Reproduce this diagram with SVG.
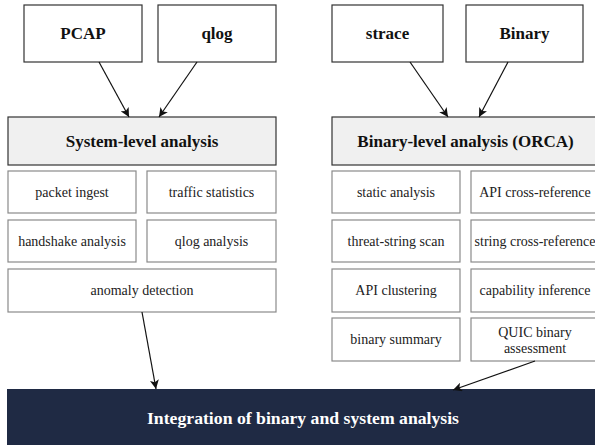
<svg xmlns="http://www.w3.org/2000/svg" width="595" height="445" viewBox="0 0 595 445">
  <defs>
    <marker id="arrow" viewBox="0 0 10 10" refX="10" refY="5" markerWidth="10" markerHeight="9" markerUnits="userSpaceOnUse" orient="auto">
      <path d="M0,0 L10,5 L0,10 L2.5,5 z" fill="#111"/>
    </marker>
    <style>
      .src { fill: #ffffff; stroke: #333333; stroke-width: 1.2; }
      .head { fill: #f0f0f0; stroke: #333333; stroke-width: 1.2; }
      .step { fill: #ffffff; stroke: #8a8a8a; stroke-width: 1.2; }
      .final { fill: #1f2a44; stroke: none; }
      text { font-family: 'Liberation Serif', 'Times New Roman', Times, 'DejaVu Serif', serif; }
      .bold { font-weight: bold; font-size: 17px; fill: #111; text-anchor: middle; }
      .txt { font-size: 14px; fill: #222; text-anchor: middle; }
      .white { fill: #ffffff; font-size: 17.7px; }
      .edge { stroke: #111; stroke-width: 1.2; fill: none; marker-end: url(#arrow); }
    </style>
  </defs>

  <!-- input sources -->
  <g id="pcap"><rect class="src" x="24" y="5" width="118" height="57"/><text class="bold" x="83" y="39">PCAP</text></g>
  <g id="qlog"><rect class="src" x="158" y="5" width="118" height="57"/><text class="bold" x="217" y="39">qlog</text></g>
  <g id="strace"><rect class="src" x="332" y="5" width="111" height="57"/><text class="bold" x="387.5" y="39">strace</text></g>
  <g id="binary"><rect class="src" x="466" y="5" width="117" height="57"/><text class="bold" x="524.5" y="39">Binary</text></g>

  <!-- analysis headers -->
  <g id="system-level"><rect class="head" x="8" y="117" width="268" height="48"/><text class="bold" x="142" y="147">System-level analysis</text></g>
  <g id="binary-level"><rect class="head" x="332" y="117" width="267" height="48"/><text class="bold" x="465.5" y="147">Binary-level analysis (ORCA)</text></g>

  <!-- system-level steps -->
  <g id="packet-ingest"><rect class="step" x="8" y="171" width="128" height="42"/><text class="txt" x="72" y="197">packet ingest</text></g>
  <g id="traffic-statistics"><rect class="step" x="147" y="171" width="129" height="42"/><text class="txt" x="211.5" y="197">traffic statistics</text></g>
  <g id="handshake-analysis"><rect class="step" x="8" y="220" width="128" height="42"/><text class="txt" x="72" y="246">handshake analysis</text></g>
  <g id="qlog-analysis"><rect class="step" x="147" y="220" width="129" height="42"/><text class="txt" x="211.5" y="246">qlog analysis</text></g>
  <g id="anomaly-detection"><rect class="step" x="8" y="269" width="268" height="43"/><text class="txt" x="142" y="295">anomaly detection</text></g>

  <!-- binary-level steps -->
  <g id="static-analysis"><rect class="step" x="332" y="171" width="128" height="42"/><text class="txt" x="396" y="197">static analysis</text></g>
  <g id="api-xref"><rect class="step" x="471" y="171" width="128" height="42"/><text class="txt" x="535" y="197">API cross-reference</text></g>
  <g id="threat-string-scan"><rect class="step" x="332" y="220" width="128" height="42"/><text class="txt" x="396" y="246">threat-string scan</text></g>
  <g id="string-xref"><rect class="step" x="471" y="220" width="128" height="42"/><text class="txt" x="535" y="246">string cross-reference</text></g>
  <g id="api-clustering"><rect class="step" x="332" y="269" width="128" height="43"/><text class="txt" x="396" y="295">API clustering</text></g>
  <g id="capability-inference"><rect class="step" x="471" y="269" width="128" height="43"/><text class="txt" x="535" y="295">capability inference</text></g>
  <g id="binary-summary"><rect class="step" x="332" y="318" width="128" height="43"/><text class="txt" x="396" y="344">binary summary</text></g>
  <g id="quic-assessment"><rect class="step" x="471" y="318" width="128" height="43"/><text class="txt" x="535" y="337">QUIC binary</text><text class="txt" x="535" y="353">assessment</text></g>

  <!-- integration -->
  <g id="integration"><rect class="final" x="7" y="389" width="595" height="60"/><text class="bold white" x="303" y="424">Integration of binary and system analysis</text></g>

  <!-- connectors -->
  <g id="connectors">
    <line class="edge" x1="99" y1="62" x2="129" y2="117"/>
    <line class="edge" x1="197" y1="62" x2="159" y2="117"/>
    <line class="edge" x1="410" y1="62" x2="448" y2="117"/>
    <line class="edge" x1="508" y1="62" x2="479" y2="117"/>
    <line class="edge" x1="142" y1="312" x2="156" y2="389"/>
    <line class="edge" x1="535" y1="361" x2="453" y2="390"/>
  </g>
</svg>
